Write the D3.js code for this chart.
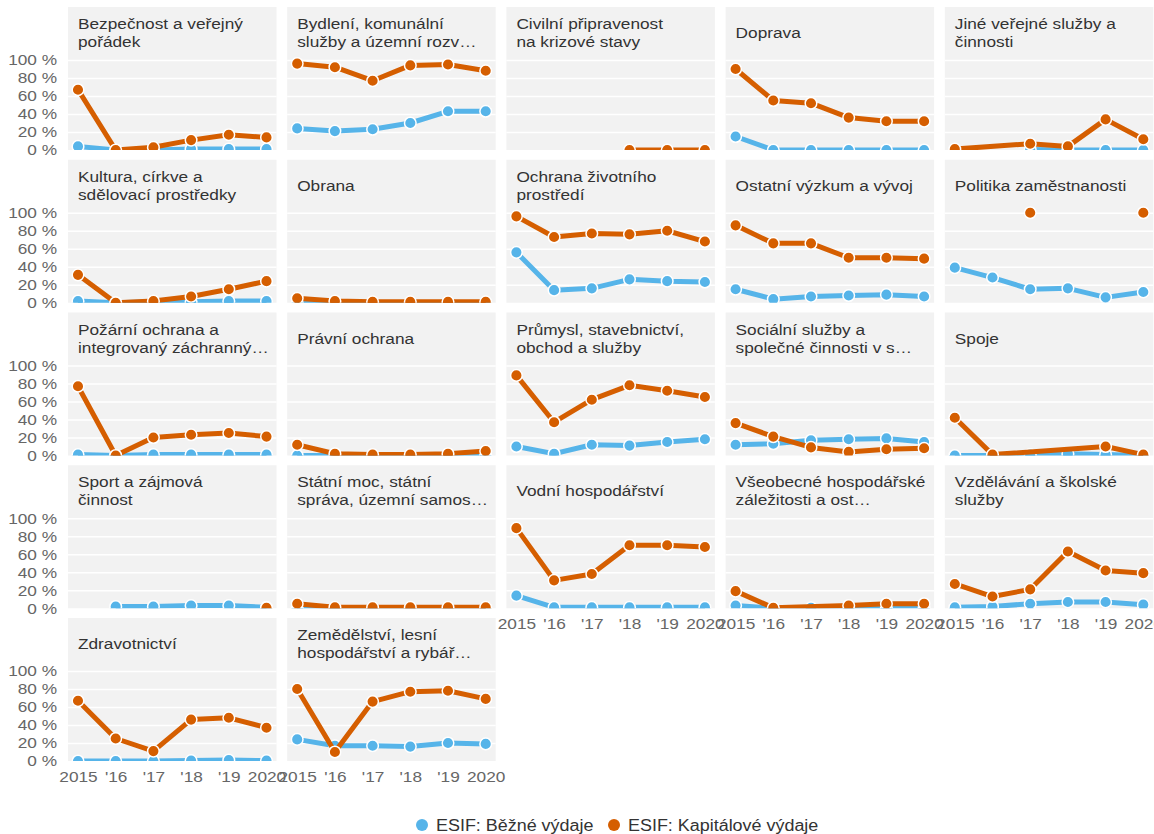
<!DOCTYPE html>
<html><head><meta charset="utf-8">
<script src="https://cdn.jsdelivr.net/npm/d3@7"></script>
<style>
body{margin:0;background:#fff}
text{font-family:"Liberation Sans",Arial,Helvetica,sans-serif}
</style>
</head><body>
<svg id="chart" width="1154" height="834"></svg>
<script>
// ---------- DATA ----------
const years = [2015, 2016, 2017, 2018, 2019, 2020];
const xTickLabels = ["2015", "'16", "'17", "'18", "'19", "2020"];
const yTicks = [0, 20, 40, 60, 80, 100];
const seriesNames = ["ESIF: Běžné výdaje", "ESIF: Kapitálové výdaje"];
const seriesColors = ["#56B4E9", "#D55E00"];

const categories = [
  "Bezpečnost a veřejný\npořádek",
  "Bydlení, komunální\nslužby a územní rozv…",
  "Civilní připravenost\nna krizové stavy",
  "Doprava",
  "Jiné veřejné služby a\nčinnosti",
  "Kultura, církve a\nsdělovací prostředky",
  "Obrana",
  "Ochrana životního\nprostředí",
  "Ostatní výzkum a vývoj",
  "Politika zaměstnanosti",
  "Požární ochrana a\nintegrovaný záchranný…",
  "Právní ochrana",
  "Průmysl, stavebnictví,\nobchod a služby",
  "Sociální služby a\nspolečné činnosti v s…",
  "Spoje",
  "Sport a zájmová\nčinnost",
  "Státní moc, státní\nspráva, územní samos…",
  "Vodní hospodářství",
  "Všeobecné hospodářské\nzáležitosti a ost…",
  "Vzdělávání a školské\nslužby",
  "Zdravotnictví",
  "Zemědělství, lesní\nhospodářství a rybář…"
];

// null = no value (line connects over it), NaN = value outside the chart (line breaks)
const bezneVydaje = [
  [4, 0, 0, 1, 1, 1],
  [24, 21, 23, 30, 43, 43],
  [null, null, null, null, null, null],
  [15, 0, 0, 0, 0, 0],
  [null, null, 0.5, 0, 0, 0],
  [2, 0, 1, 1, 2, 2],
  [0, 0, 0, 0, 0, 0],
  [56, 14, 16, 26, 24, 23],
  [15, 4, 7, 8, 9, 7],
  [39, 28, 15, 16, 6, 12],
  [1, 0, 1, 1, 1, 1],
  [0, 0, 0, 0, 0, 0],
  [10, 2, 12, 11, 15, 18],
  [12, 13, 17, 18, 19, 15],
  [0, 0, 1, 2, 1, 0],
  [null, 2, 2, 3, 3, 1],
  [0, 0, 0, 0, 0, 0],
  [14, 1, 1, 1, 1, 1],
  [3, 0, 0.5, 0, 0, 0],
  [1, 2, 5, 7, 7, 4],
  [0, 0, 0, 0.5, 1, 0.5],
  [24, 17, 17, 16, 20, 19]
];
const kapitaloveVydaje = [
  [67, 0, 3, 11, 17, 14],
  [96, 92, 77, 94, 95, 88],
  [null, null, null, 0, 0, 0],
  [90, 55, 52, 36, 32, 32],
  [1, null, 7, 4, 34, 12],
  [31, 0, 2, 7, 15, 24],
  [5, 2, 1, 1, 1, 1],
  [96, 73, 77, 76, 80, 68],
  [86, 66, 66, 50, 50, 49],
  [null, null, 100, NaN, NaN, 100],
  [77, 0, 20, 23, 25, 21],
  [12, 2, 1, 1, 2, 5],
  [89, 37, 62, 78, 72, 65],
  [36, 21, 9, 4, 7, 8],
  [42, 1, null, null, 10, 1],
  [null, null, null, null, null, 0.5],
  [5, 1, 1, 1, 1, 1],
  [89, 31, 38, 70, 70, 68],
  [19, 0.5, null, 3, 5, 5],
  [27, 13, 21, 63, 42, 39],
  [67, 25, 11, 46, 48, 37],
  [80, 10, 66, 77, 78, 69]
];
const seriesValues = [bezneVydaje, kapitaloveVydaje];

// ---------- LAYOUT ----------
const SX = 1.15;            // horizontal text stretch of the original rendering
const FONT = 15;
const nCols = 5;
const colLeft0 = 68, colPitch = 219.2, panelW = 208.5;
const rowTop0 = 7, rowPitch = 152.75, stripH = 53, plotH = 90;
const padX = 10;

const svg = d3.select("#chart");
const defs = svg.append("defs");

categories.forEach((cat, i) => {
  const c = i % nCols, r = Math.floor(i / nCols);
  const left = colLeft0 + c * colPitch;
  const top = rowTop0 + r * rowPitch;
  const g = svg.append("g").attr("transform", `translate(${left},${top})`);

  g.append("rect").attr("width", panelW).attr("height", stripH + plotH).attr("fill", "#f2f2f2");

  const y = d3.scaleLinear().domain([0, 100]).range([stripH + plotH, stripH]);
  const x = d3.scalePoint().domain(years).range([padX, panelW - padX]);

  // gridlines
  g.append("g")
    .call(d3.axisLeft(y).tickValues(yTicks.filter(t => t > 0)).tickSize(-panelW).tickFormat(""))
    .call(a => a.select(".domain").remove())
    .selectAll("line").attr("stroke", "#fff").attr("stroke-width", 1.6);

  // title
  const lines = cat.split("\n");
  const bases = lines.length === 1 ? [31] : [22, 40];
  lines.forEach((ln, k) => {
    g.append("text")
      .attr("transform", `translate(10,${bases[k]}) scale(${SX},1)`)
      .attr("font-size", FONT).attr("fill", "#333")
      .text(ln);
  });

  // clip
  const cid = "clip" + i;
  defs.append("clipPath").attr("id", cid)
    .append("rect").attr("x", left).attr("y", top).attr("width", panelW).attr("height", stripH + plotH);
  const plot = svg.append("g").attr("clip-path", `url(#${cid})`)
    .append("g").attr("transform", `translate(${left},${top})`);

  seriesValues.forEach((sv, s) => {
    const pts = years.map((yr, j) => ({ yr, v: sv[i][j] })).filter(d => d.v !== null);
    const line = d3.line().defined(d => !Number.isNaN(d.v)).x(d => x(d.yr)).y(d => y(d.v));
    plot.append("path").datum(pts)
      .attr("d", line).attr("fill", "none")
      .attr("stroke", seriesColors[s]).attr("stroke-width", 5)
      .attr("stroke-linejoin", "round");
    plot.selectAll(null).data(pts.filter(d => !Number.isNaN(d.v))).join("circle")
      .attr("cx", d => x(d.yr)).attr("cy", d => y(d.v)).attr("r", 5.8)
      .attr("fill", seriesColors[s]).attr("stroke", "#fff").attr("stroke-width", 1.5);
  });

  // y axis labels (first column)
  if (c === 0) {
    const ya = g.append("g")
      .call(d3.axisLeft(y).tickValues(yTicks).tickSize(0).tickPadding(9.5).tickFormat(d => d + "\u00a0%"));
    ya.select(".domain").remove();
    ya.attr("font-size", FONT).attr("font-family", null);
    ya.selectAll("text").attr("fill", "#666").attr("transform", `scale(${SX},1)`);
  }
  // x axis labels (last panel in each column)
  if (i + nCols >= categories.length) {
    const xa = g.append("g").attr("transform", `translate(0,${stripH + plotH})`)
      .call(d3.axisBottom(x).tickSize(0).tickPadding(10).tickFormat((d, j) => xTickLabels[j]));
    xa.select(".domain").remove();
    xa.attr("font-size", FONT).attr("font-family", null);
    xa.selectAll("text").attr("fill", "#666").attr("transform", `scale(${SX},1)`);
  }
});

// legend
const legend = svg.append("g").attr("transform", "translate(0,825)");
const legendX = [422, 614];
seriesNames.forEach((nm, s) => {
  legend.append("circle").attr("cx", legendX[s]).attr("cy", 0).attr("r", 6).attr("fill", seriesColors[s]);
  legend.append("text")
    .attr("transform", `translate(${legendX[s] + 14},5.7) scale(${SX},1)`)
    .attr("font-size", 15.6).attr("fill", "#333").text(nm);
});
</script>
</body></html>
